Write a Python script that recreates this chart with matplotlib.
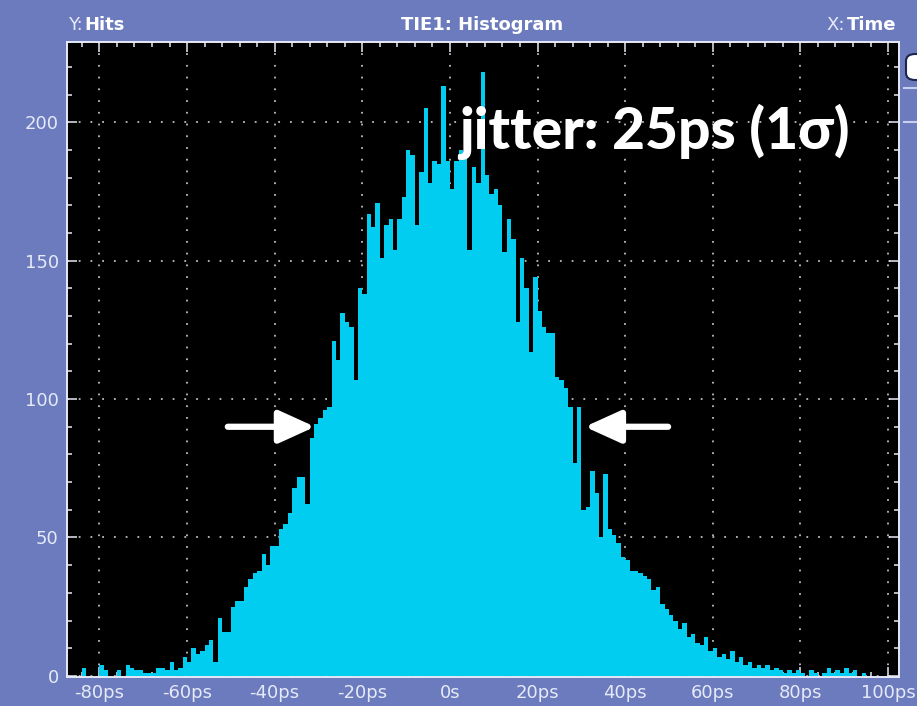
import numpy as np
import matplotlib
matplotlib.use("Agg")
import matplotlib.pyplot as plt
from matplotlib import font_manager
from matplotlib.patches import FancyBboxPatch
from matplotlib.lines import Line2D
from matplotlib.ticker import MultipleLocator, FixedLocator

# histogram of TIE (time interval error), 1 ps bins starting at -87 ps
bin_start_ps = -87
bin_width_ps = 1
hits = [
    0, 0, 0, 3, 0, 0, 0, 4, 2, 0,
    0, 2, 0, 4, 3, 2, 2, 1, 1, 1,
    3, 3, 2, 5, 2, 3, 7, 5, 10, 8,
    9, 11, 13, 5, 21, 16, 16, 25, 27, 27,
    32, 35, 37, 38, 44, 40, 47, 47, 53, 55,
    59, 68, 72, 72, 62, 86, 91, 93, 96, 97,
    121, 114, 131, 128, 126, 107, 140, 138, 167, 162,
    171, 151, 163, 165, 154, 165, 173, 190, 188, 163,
    182, 205, 178, 186, 185, 213, 186, 176, 186, 190,
    187, 154, 184, 178, 218, 181, 174, 176, 170, 153,
    165, 158, 128, 151, 140, 117, 144, 132, 126, 124,
    124, 108, 107, 104, 97, 77, 97, 60, 61, 74,
    66, 50, 73, 53, 51, 48, 43, 42, 38, 38,
    37, 36, 35, 31, 32, 26, 24, 22, 20, 17,
    19, 14, 15, 12, 11, 14, 9, 10, 7, 8,
    6, 9, 5, 7, 4, 5, 3, 4, 3, 4,
    2, 3, 2, 1, 2, 1, 2, 1, 0, 2,
    1, 0, 1, 3, 1, 2, 1, 3, 1, 2,
    0, 1, 0, 0, 0, 0, 0, 0, 0,
]
x_ticks = [-80, -60, -40, -20, 0, 20, 40, 60, 80, 100]
x_labels = ["-80ps", "-60ps", "-40ps", "-20ps", "0s", "20ps", "40ps", "60ps", "80ps", "100ps"]
y_ticks = [0, 50, 100, 150, 200]
sigma_left, sigma_right, arrow_y = -30.8, 30.8, 90

BG = "#6b7bbd"
CYAN = "#00cdf0"
LIGHT = "#e6eaf8"

names = {f.name for f in font_manager.fontManager.ttflist}
narrow = "Liberation Sans Narrow" if "Liberation Sans Narrow" in names else "DejaVu Sans"

W, H = 917, 706
fig = plt.figure(figsize=(W / 100, H / 100), dpi=100, facecolor=BG)
ax = fig.add_axes([67 / W, (H - 677) / H, (899 - 67) / W, (677 - 42) / H])
ax.set_facecolor("black")

edges = bin_start_ps + bin_width_ps * np.arange(len(hits) + 1)
ax.stairs(hits, edges, fill=True, color=CYAN, zorder=2)

ax.set_xlim(-87.4, 102.5)
ax.set_ylim(-0.4, 229)

# scope graticule
ax.set_axisbelow(True)
ax.xaxis.set_major_locator(FixedLocator(x_ticks))
ax.xaxis.set_minor_locator(MultipleLocator(4))
ax.yaxis.set_major_locator(FixedLocator(y_ticks))
ax.yaxis.set_minor_locator(MultipleLocator(10))
ax.set_xticklabels(x_labels)
ax.grid(which="major", color="#bdbdbd", linestyle=(0, (1, 5.5)), lw=1.3)
ax.tick_params(which="both", direction="in", top=True, right=True, color=LIGHT, width=1.1,
               labelcolor=LIGHT, labelsize=13)
ax.tick_params(which="major", length=7)
ax.tick_params(which="minor", length=3.5)
ax.tick_params(axis="x", pad=5)
ax.tick_params(axis="y", pad=6)
for lab in ax.get_xticklabels() + ax.get_yticklabels():
    lab.set_family(narrow)
for sp in ax.spines.values():
    sp.set_color(LIGHT)
    sp.set_linewidth(1.4)

# header line
ty = 1 - 25 / H
ylab = fig.text(68 / W, ty, "Y:", color=LIGHT, fontsize=13, family=narrow, va="center")
ax.annotate("Hits", xy=(1, 0.5), xycoords=ylab, xytext=(1, 0), textcoords="offset points",
            color="white", fontsize=13, family=narrow, weight="bold", va="center")
fig.text(482 / W, ty, "TIE1: Histogram", color="white", fontsize=13, family=narrow,
         weight="bold", va="center", ha="center")
tlab = fig.text(896 / W, ty, "Time", color="white", fontsize=13, family=narrow, weight="bold",
                va="center", ha="right")
ax.annotate("X:", xy=(0, 0.5), xycoords=tlab, xytext=(-1, 0), textcoords="offset points",
            color=LIGHT, fontsize=13, family=narrow, va="center", ha="right")

# annotation
ax.text(2.0, 190.5, "jitter: 25ps (1σ)", color="white", fontsize=41, weight="black",
        family=["Lato", "DejaVu Sans"], va="baseline", ha="left", zorder=5)
arrow = dict(arrowstyle="-|>,head_length=1.1,head_width=0.5", color="white", lw=4.5,
             mutation_scale=20, shrinkA=0, shrinkB=0)
ax.annotate("", xy=(sigma_left, arrow_y), xytext=(-50.7, arrow_y), arrowprops=arrow, zorder=5)
ax.annotate("", xy=(sigma_right, arrow_y), xytext=(49.8, arrow_y), arrowprops=arrow, zorder=5)

# clipped side panel at the right edge
fig.add_artist(FancyBboxPatch((906 / W, 1 - 80 / H), 30 / W, 26 / H,
                              boxstyle="round,pad=0,rounding_size=0.01",
                              transform=fig.transFigure, fc="white", ec="#1c2450", lw=1.5))
for yy in (88, 122):
    fig.add_artist(Line2D([904 / W, 1], [1 - yy / H] * 2, transform=fig.transFigure,
                          color="#c8d0f0", lw=1.5))

fig.savefig("out.png", dpi=100, facecolor=BG)
